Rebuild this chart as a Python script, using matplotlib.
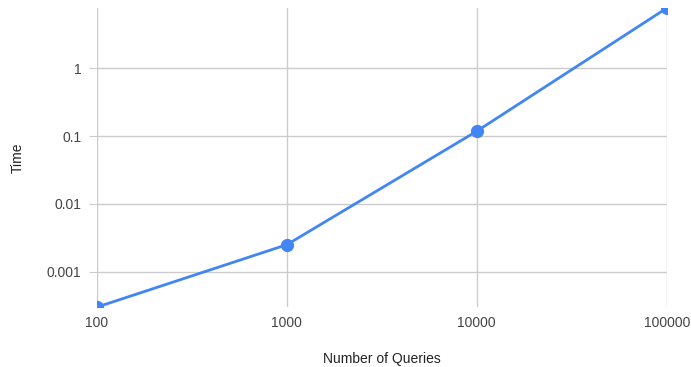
import matplotlib.pyplot as plt
from matplotlib.ticker import FixedLocator, FixedFormatter, NullLocator

plt.rcParams['font.family'] = ['Liberation Sans', 'DejaVu Sans']

# data
queries = [100, 1000, 10000, 100000]
times = [0.0003, 0.0025, 0.118, 7.7]

xticks = [100, 1000, 10000, 100000]
xlabels = ['100', '1000', '10000', '100000']
yticks = [0.001, 0.01, 0.1, 1]
ylabels = ['0.001', '0.01', '0.1', '1']

fig = plt.figure(figsize=(6.91, 3.67), dpi=100)
ax = fig.add_axes([0.140, 0.163, 0.825, 0.815])

ax.plot(queries, times, color='#4285F4', lw=2, marker='o', ms=8.5, zorder=3)

ax.set_xscale('log')
ax.set_yscale('log')
ax.set_xlim(queries[0], queries[-1])
ax.set_ylim(min(times), max(times))

ax.xaxis.set_major_locator(FixedLocator(xticks))
ax.xaxis.set_major_formatter(FixedFormatter(xlabels))
ax.xaxis.set_minor_locator(NullLocator())
ax.yaxis.set_major_locator(FixedLocator(yticks))
ax.yaxis.set_major_formatter(FixedFormatter(ylabels))
ax.yaxis.set_minor_locator(NullLocator())

ax.grid(True, color='#cccccc', lw=1)
for s in ax.spines.values():
    s.set_visible(False)
ax.tick_params(axis='x', length=0, pad=6, labelsize=10, labelcolor='#444444')
ax.tick_params(axis='y', length=6, color='#cccccc', pad=5, labelsize=10, labelcolor='#444444')

ax.set_xlabel('Number of Queries', fontsize=10, color='#222222', labelpad=16)
ax.set_ylabel('Time', fontsize=10, color='#222222', labelpad=16)

fig.savefig('out.png', dpi=100)
